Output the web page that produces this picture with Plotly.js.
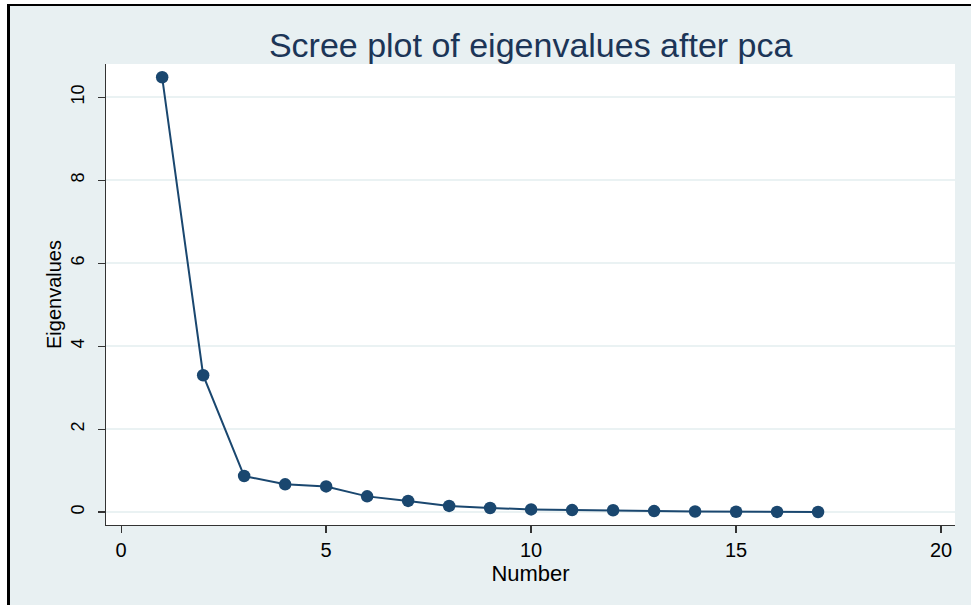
<!DOCTYPE html>
<html>
<head>
<meta charset="utf-8">
<script src="https://cdn.plot.ly/plotly-3.0.1.min.js"></script>
<style>
  html, body { margin: 0; padding: 0; background: #ffffff; }
  #wrap { position: relative; width: 971px; height: 605px; }
  #chart { position: absolute; left: 0; top: 0; width: 971px; height: 605px; }
  .ov { position: absolute; pointer-events: none; }
</style>
</head>
<body>
<div id="wrap">
  <div id="chart"></div>
  <div class="ov" style="left:0;top:0;width:971px;height:4px;background:#fff;"></div>
  <div class="ov" style="left:0;top:0;width:7px;height:605px;background:#fff;"></div>
  <div class="ov" style="left:7px;top:4px;width:964px;height:601px;border-top:2px solid #000;border-left:3px solid #000;box-sizing:border-box;"></div>
</div>
<script>
const components = [1, 2, 3, 4, 5, 6, 7, 8, 9, 10, 11, 12, 13, 14, 15, 16, 17];
const eigenvalues = [10.48, 3.30, 0.87, 0.67, 0.62, 0.38, 0.27, 0.15, 0.10, 0.065, 0.05, 0.045, 0.025, 0.015, 0.01, 0.005, 0.003];
const xTicks = [0, 5, 10, 15, 20];
const yTicks = [0, 2, 4, 6, 8, 10];

const navy = '#1a476f';
const font = 'Liberation Sans, Arial, sans-serif';

Plotly.newPlot('chart', [{
  x: components,
  y: eigenvalues,
  type: 'scatter',
  mode: 'lines+markers',
  line: { color: navy, width: 2 },
  marker: { color: navy, size: 12.5 },
  hoverinfo: 'skip'
}], {
  width: 971,
  height: 605,
  paper_bgcolor: '#e8f0f2',
  plot_bgcolor: '#ffffff',
  margin: { l: 106, r: 16, t: 64, b: 80, pad: 0 },
  showlegend: false,
  title: {
    text: 'Scree plot of eigenvalues after pca',
    font: { family: font, size: 34, color: '#1c3557' },
    x: 0.5465, xanchor: 'center',
    y: 0.925, yanchor: 'middle'
  },
  xaxis: {
    range: [-0.37, 20.34],
    tickvals: xTicks,
    ticktext: xTicks.map(String),
    ticks: 'outside', ticklen: 7, tickwidth: 1.3, tickcolor: '#333',
    showline: true, linecolor: '#333', linewidth: 1.3,
    showgrid: false, zeroline: false,
    tickfont: { family: font, size: 20, color: '#000' },
    title: { text: 'Number', font: { family: font, size: 22, color: '#000' }, standoff: 0 },
    automargin: false
  },
  yaxis: {
    range: [-0.31, 10.8],
    tickvals: yTicks,
    ticktext: yTicks.map(String),
    tickangle: -90,
    ticks: 'outside', ticklen: 7, tickwidth: 1.3, tickcolor: '#333',
    ticklabelstandoff: 7,
    showline: true, linecolor: '#333', linewidth: 1.3,
    showgrid: true, gridcolor: '#eaf2f3', gridwidth: 2,
    zeroline: false,
    tickfont: { family: font, size: 18, color: '#000' },
    title: { text: 'Eigenvalues', font: { family: font, size: 20, color: '#000' }, standoff: 0 },
    automargin: false
  }
}, { staticPlot: true, displayModeBar: false });
</script>
</body>
</html>
